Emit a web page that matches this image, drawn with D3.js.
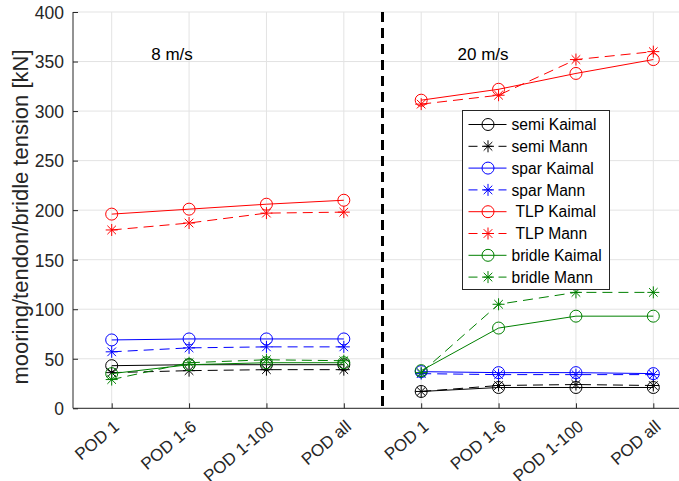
<!DOCTYPE html>
<html>
<head>
<meta charset="utf-8">
<script src="https://cdn.jsdelivr.net/npm/d3@7"></script>
<style>
  body { margin: 0; background: #fff; }
  svg { font-family: "Liberation Sans", Arial, sans-serif; }
  .grid line { stroke: #e3e3e3; stroke-width: 1; }
</style>
</head>
<body>
<div id="chart-area"></div>
<script>
// categories (x positions 1..8, two wind speed groups)
var categories = ["POD 1", "POD 1-6", "POD 1-100", "POD all",
                  "POD 1", "POD 1-6", "POD 1-100", "POD all"];
var yTicks = [0, 50, 100, 150, 200, 250, 300, 350, 400];
var groupLabels = ["8 m/s", "20 m/s"];

// values, [8 m/s group, 20 m/s group]
var semiKaimal   = [[43, 44, 44, 44], [17, 21, 21, 21]];
var semiMann     = [[36, 38, 39, 39], [17, 23, 24, 23]];
var sparKaimal   = [[69, 70, 70, 70], [37, 36, 36, 35]];
var sparMann     = [[57, 61, 62, 62], [35, 34, 34, 34]];
var tlpKaimal    = [[196, 201, 206, 210], [311, 322, 338, 352]];
var tlpMann      = [[180, 187, 197, 198], [307, 316, 352, 360]];
var bridleKaimal = [[35, 44, 46, 46], [38, 81, 93, 93]];
var bridleMann   = [[29, 46, 49, 48], [36, 105, 117, 117]];

var series = [
    {name: "semi Kaimal", values: semiKaimal, color: "#000000", mann: false},
    {name: "semi Mann", values: semiMann, color: "#000000", mann: true},
    {name: "spar Kaimal", values: sparKaimal, color: "#0000ff", mann: false},
    {name: "spar Mann", values: sparMann, color: "#0000ff", mann: true},
    {name: " TLP Kaimal", values: tlpKaimal, color: "#ff0000", mann: false},
    {name: " TLP Mann", values: tlpMann, color: "#ff0000", mann: true},
    {name: "bridle Kaimal", values: bridleKaimal, color: "#008000", mann: false},
    {name: "bridle Mann", values: bridleMann, color: "#008000", mann: true}
];

var width = 679, height = 481;
var margin = {left: 73, right: 692, top: 12, bottom: 408.3};

var xScale = d3.scaleLinear().domain([0.5, 8.5]).range([margin.left, margin.right]);
var yScale = d3.scaleLinear().domain([0, 400]).range([margin.bottom, margin.top]);

var svg = d3.select("#chart-area").append("svg")
    .attr("width", width)
    .attr("height", height);

// grid
var grid = svg.append("g").attr("class", "grid");
grid.selectAll(".gx").data(d3.range(1, 9)).enter().append("line")
    .attr("x1", d => xScale(d)).attr("x2", d => xScale(d))
    .attr("y1", margin.top).attr("y2", margin.bottom);
grid.selectAll(".gy").data(yTicks).enter().append("line")
    .attr("x1", margin.left).attr("x2", margin.right)
    .attr("y1", d => yScale(d)).attr("y2", d => yScale(d));

// axes (ticks pointing inward)
var yAxis = d3.axisRight(yScale).tickValues(yTicks).tickSize(5).tickFormat("");
var yg = svg.append("g").attr("class", "axis")
    .attr("transform", "translate(" + margin.left + ",0)")
    .call(yAxis);
yg.select(".domain").attr("d", "M0," + margin.top + "V" + margin.bottom);
yg.selectAll(".tick").append("text")
    .attr("x", -9).attr("dy", "0.36em")
    .attr("text-anchor", "end")
    .attr("fill", "#262626")
    .style("font-size", "17.5px")
    .text(d => d);

var xAxis = d3.axisTop(xScale).tickValues(d3.range(1, 9)).tickSize(5).tickFormat("");
var xg = svg.append("g").attr("class", "axis")
    .attr("transform", "translate(0," + margin.bottom + ")")
    .call(xAxis);
xg.select(".domain").attr("d", "M" + margin.left + ",0H" + margin.right);
xg.selectAll(".tick").append("text")
    .attr("transform", "translate(8,20) rotate(-40)")
    .attr("text-anchor", "end")
    .attr("fill", "#262626")
    .style("font-size", "17px")
    .text((d, i) => categories[i]);
svg.selectAll(".axis path, .axis line").attr("stroke", "#262626");

// y label
svg.append("text")
    .attr("transform", "translate(28," + 217 + ") rotate(-90)")
    .attr("text-anchor", "middle")
    .style("font-size", "22px")
    .attr("fill", "#262626")
    .text("mooring/tendon/bridle tension [kN]");

// separator
svg.append("line")
    .attr("x1", xScale(4.5)).attr("x2", xScale(4.5))
    .attr("y1", margin.top).attr("y2", margin.bottom)
    .attr("stroke", "#000").attr("stroke-width", 3)
    .attr("stroke-dasharray", "10,6");

// group labels
svg.selectAll(".glabel").data(groupLabels).enter().append("text")
    .attr("x", (d, i) => xScale(i === 0 ? 1.78 : 5.8))
    .attr("y", 60)
    .attr("text-anchor", "middle")
    .style("font-size", "17px")
    .text(d => d);

function drawMarker(g, mann, color) {
    if (mann) {
        var r = 6, q = 4.3;
        g.append("path")
            .attr("d", "M0," + -r + "V" + r + "M" + -r + ",0H" + r +
                "M" + -q + "," + -q + "L" + q + "," + q +
                "M" + -q + "," + q + "L" + q + "," + -q)
            .attr("stroke", color).attr("fill", "none").attr("stroke-width", 1);
    } else {
        g.append("circle").attr("r", 6)
            .attr("stroke", color).attr("fill", "none").attr("stroke-width", 1);
    }
}

var lineGenerator = d3.line()
    .x(d => xScale(d.x))
    .y(d => yScale(d.y));

var plot = svg.append("g");
series.forEach(function(s) {
    s.values.forEach(function(vals, gi) {
        var pts = vals.map((v, i) => ({x: gi * 4 + i + 1, y: v}));
        plot.append("path")
            .datum(pts)
            .attr("d", lineGenerator)
            .attr("fill", "none")
            .attr("stroke", s.color)
            .attr("stroke-width", 1)
            .attr("stroke-dasharray", s.mann ? "10,6" : null);
        pts.forEach(function(p) {
            var m = plot.append("g")
                .attr("transform", "translate(" + xScale(p.x) + "," + yScale(p.y) + ")");
            drawMarker(m, s.mann, s.color);
        });
    });
});

// legend
var lx = 462.5, ly = 110.5, lw = 147, lh = 179, rowH = 21.8;
var legend = svg.append("g");
legend.append("rect")
    .attr("x", lx).attr("y", ly).attr("width", lw).attr("height", lh)
    .attr("fill", "#fff").attr("stroke", "#262626").attr("stroke-width", 1);
series.forEach(function(s, i) {
    var cy = ly + 14 + i * rowH;
    legend.append("line")
        .attr("x1", lx + 6).attr("x2", lx + 44)
        .attr("y1", cy).attr("y2", cy)
        .attr("stroke", s.color).attr("stroke-width", 1)
        .attr("stroke-dasharray", s.mann ? "9,6" : null);
    var m = legend.append("g").attr("transform", "translate(" + (lx + 25.5) + "," + cy + ")");
    drawMarker(m, s.mann, s.color);
    legend.append("text")
        .attr("x", lx + 49).attr("y", cy).attr("dy", "0.36em")
        .style("font-size", "15.6px")
        .style("white-space", "pre")
        .attr("fill", "#000")
        .text(s.name);
});
</script>
</body>
</html>
